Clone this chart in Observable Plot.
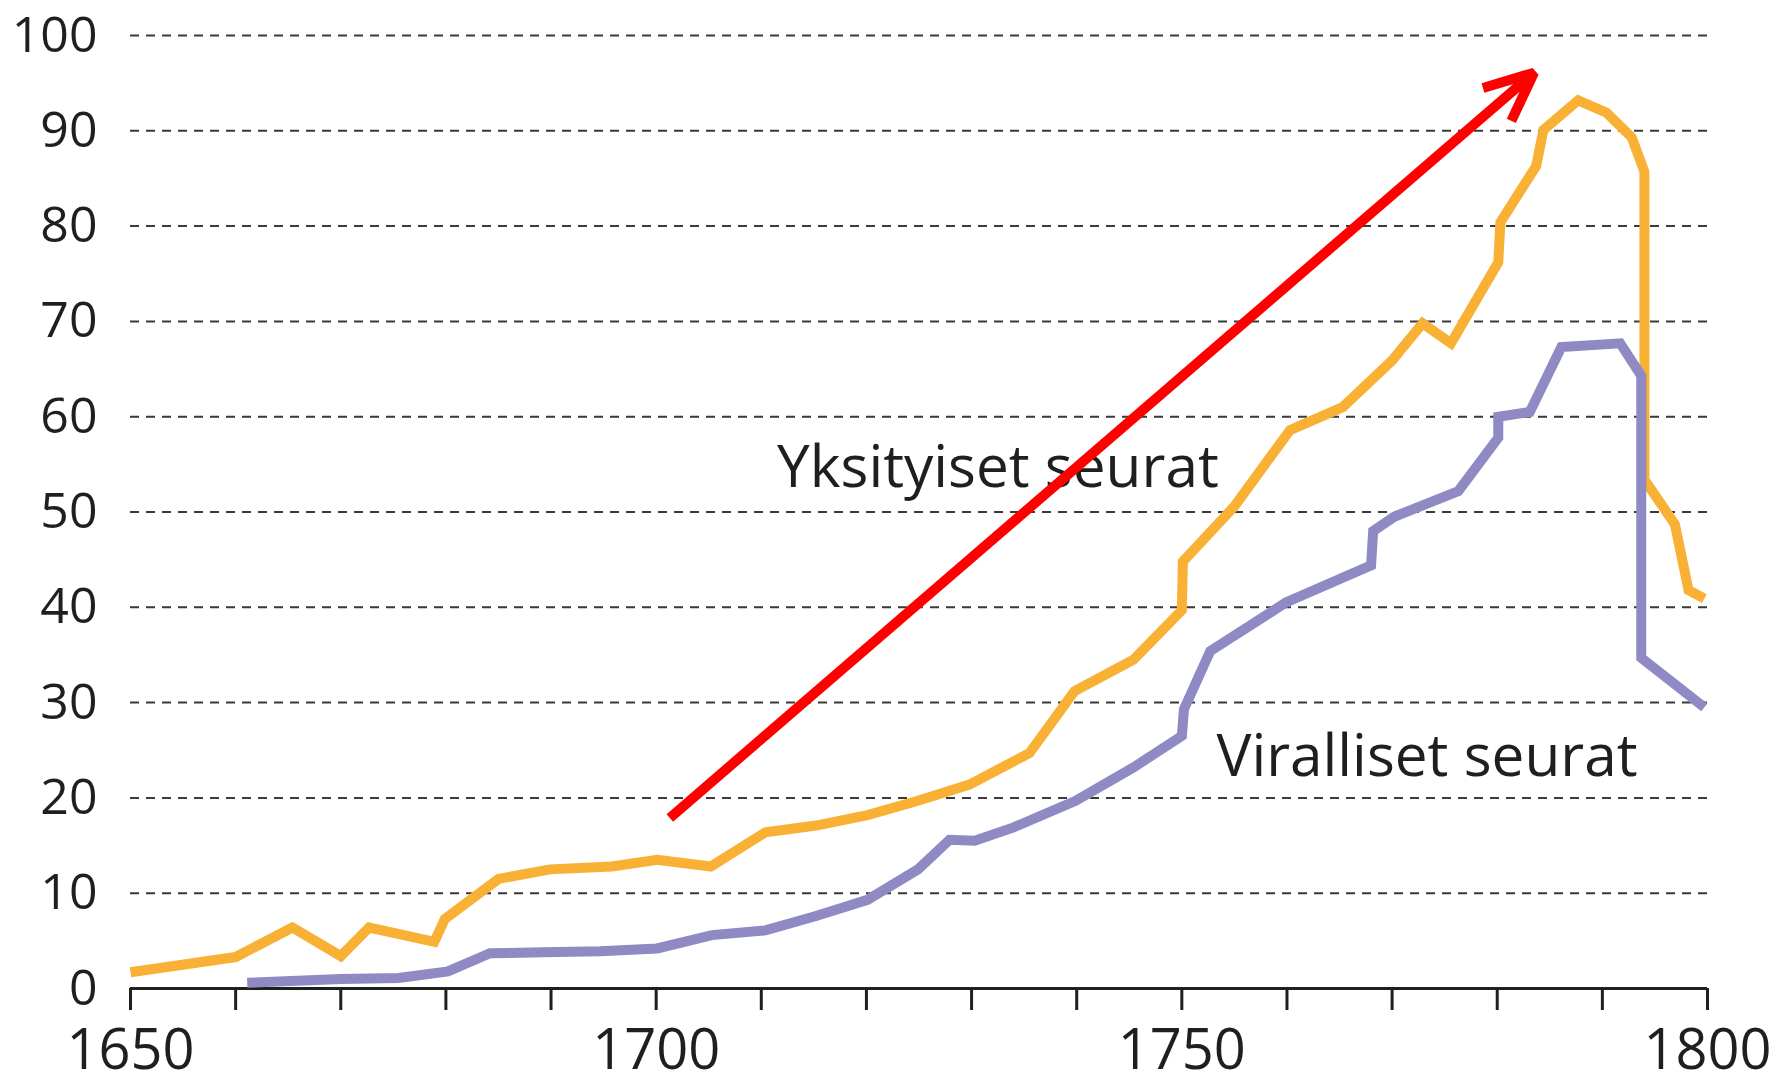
<!DOCTYPE html>
<html>
<head>
<meta charset="utf-8">
<script src="https://cdn.jsdelivr.net/npm/d3@7"></script>
<script src="https://cdn.jsdelivr.net/npm/@observablehq/plot@0.6"></script>
<style>
  html, body { margin: 0; padding: 0; background: #ffffff; }
  #chart { width: 1777px; height: 1078px; overflow: hidden; }
</style>
</head>
<body>
<div id="chart"></div>
<script>
// ---- Data ----
// Yksityiset seurat (private societies)
const privateYears  = [1650, 1660, 1665.4, 1670, 1672.7, 1678.9, 1679.9, 1685, 1689.9, 1695.8, 1700.1, 1705.2, 1710.4, 1715.2, 1720.1, 1724.9, 1729.8, 1735.5, 1739.8, 1745.4, 1750, 1750.1, 1755, 1760.3, 1765.3, 1770, 1772.9, 1775.6, 1780.1, 1780.3, 1783.7, 1784.4, 1787.7, 1790.4, 1792.8, 1794, 1794, 1796.9, 1798.2, 1799.7];
const privateValues = [1.7, 3.3, 6.4, 3.4, 6.4, 4.9, 7.3, 11.5, 12.5, 12.8, 13.5, 12.8, 16.4, 17.1, 18.2, 19.7, 21.4, 24.7, 31.2, 34.5, 39.7, 44.8, 50.6, 58.6, 61.0, 65.9, 69.8, 67.7, 76.2, 80.4, 86.3, 90.1, 93.2, 91.9, 89.3, 85.7, 53.4, 48.7, 41.8, 40.9];

// Viralliset seurat (official societies)
const officialYears  = [1661.1, 1670, 1675.5, 1680.2, 1684.2, 1689.3, 1694.7, 1700.1, 1705.3, 1710.4, 1715.2, 1720.1, 1724.9, 1727.9, 1730.3, 1734, 1739.9, 1745.4, 1750, 1750.2, 1752.7, 1759.9, 1768, 1768.2, 1770.2, 1776.3, 1780.1, 1780.1, 1783.1, 1786.1, 1791.7, 1793.7, 1793.7, 1799.7];
const officialValues = [0.6, 1.0, 1.1, 1.8, 3.7, 3.8, 3.9, 4.2, 5.6, 6.1, 7.6, 9.3, 12.5, 15.6, 15.5, 16.9, 19.7, 23.2, 26.5, 29.3, 35.4, 40.5, 44.4, 48.0, 49.5, 52.2, 57.8, 60.0, 60.5, 67.3, 67.7, 64.3, 34.7, 29.5];

// Axis ticks
const xTickYears  = [1650, 1660, 1670, 1680, 1690, 1700, 1710, 1720, 1730, 1740, 1750, 1760, 1770, 1780, 1790, 1800];
const xLabelYears = [1650, 1700, 1750, 1800];
const yTickValues = [0, 10, 20, 30, 40, 50, 60, 70, 80, 90, 100];
const yGridValues = [10, 20, 30, 40, 50, 60, 70, 80, 90, 100];

// Series labels and their anchor points (data coordinates)
const seriesNames   = ["Yksityiset seurat", "Viralliset seurat"];
const seriesLabelX  = [1711.5, 1753.3];
const seriesLabelY  = [52.6, 22.3];

// Red trend arrow (data coordinates)
const arrowStart = [1701.3, 17.9];
const arrowEnd   = [1783.5, 96.1];

// ---- Build tables ----
const privateData  = privateYears.map((x, i) => ({x, y: privateValues[i]}));
const officialData = officialYears.map((x, i) => ({x, y: officialValues[i]}));
const labelData    = seriesNames.map((t, i) => ({t, x: seriesLabelX[i], y: seriesLabelY[i]}));
const arrowData    = [{x1: arrowStart[0], y1: arrowStart[1], x2: arrowEnd[0], y2: arrowEnd[1]}];

const ORANGE = "#f8b135";
const PURPLE = "#8f8ac4";
const INK = "#1f1f1f";

const chart = Plot.plot({
  width: 1777,
  height: 1078,
  marginLeft: 130,
  marginRight: 70,
  marginTop: 35,
  marginBottom: 90,
  style: {fontFamily: "'Open Sans', sans-serif", background: "#ffffff", color: INK, overflow: "visible"},
  x: {domain: [1650, 1800]},
  y: {domain: [0, 100]},
  marks: [
    Plot.gridY(yGridValues, {stroke: "#3a3a3a", strokeOpacity: 1, strokeWidth: 2, strokeDasharray: "9,7"}),
    Plot.axisY({ticks: yTickValues, tickSize: 0, tickPadding: 33, fontSize: 50, label: null, fill: INK}),
    Plot.axisX({ticks: xTickYears, tickSize: 22, tickPadding: 19, fontSize: 56, label: null,
      stroke: INK, strokeWidth: 3, fill: INK,
      tickFormat: d => xLabelYears.includes(d) ? String(d) : ""}),
    Plot.ruleY([0], {stroke: INK, strokeWidth: 3}),
    Plot.line(privateData, {x: "x", y: "y", stroke: ORANGE, strokeWidth: 10, strokeLinecap: "butt", strokeLinejoin: "miter", strokeMiterlimit: 4}),
    Plot.line(officialData, {x: "x", y: "y", stroke: PURPLE, strokeWidth: 10, strokeLinecap: "butt", strokeLinejoin: "miter", strokeMiterlimit: 4}),
    Plot.text(labelData, {x: "x", y: "y", text: "t", textAnchor: "start", lineAnchor: "bottom", fontSize: 58.5, fill: INK}),
    Plot.arrow(arrowData, {x1: "x1", y1: "y1", x2: "x2", y2: "y2", stroke: "#ff0000", strokeWidth: 10, headAngle: 48, headLength: 8, strokeLinecap: "butt"})
  ]
});
document.getElementById("chart").appendChild(chart);
</script>
</body>
</html>
